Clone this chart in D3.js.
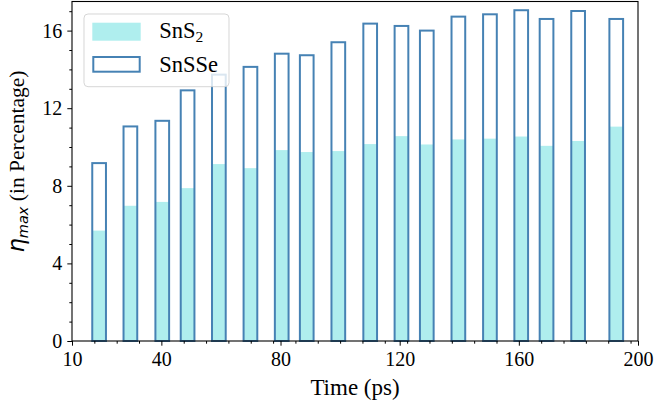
<!DOCTYPE html>
<html>
<head>
<meta charset="utf-8">
<script src="https://cdn.jsdelivr.net/npm/d3@7"></script>
<style>
  html, body { margin: 0; padding: 0; background: #fff; }
  svg { display: block; }
</style>
</head>
<body>
<svg id="chart" width="657" height="407"></svg>
<script>
// Simulation time (ps) for each sample
const time = [19.1, 29.6, 40.3, 48.8, 59.3, 69.9, 80.4, 88.8, 99.4, 110.1, 120.6, 129.1, 139.7, 150.3, 160.8, 169.3, 179.9, 192.7];
// Maximum efficiency (%) per material
const sns2  = [5.69, 6.97, 7.17, 7.88, 9.12, 8.91, 9.84, 9.74, 9.79, 10.15, 10.56, 10.13, 10.39, 10.43, 10.54, 10.06, 10.31, 11.05];
const snsse = [9.17, 11.06, 11.35, 12.92, 13.73, 14.13, 14.81, 14.73, 15.40, 16.36, 16.24, 16.00, 16.72, 16.84, 17.05, 16.60, 17.01, 16.60];
// Axis ticks
const xTicks = [10, 40, 80, 120, 160, 200];
const yTicks = [0, 4, 8, 12, 16];
const xDomain = [10, 200];
const yDomain = [0, 17.5];
const barWidth = 4.6;   // in ps

const svg = d3.select("#chart");
const plot = { left: 72, right: 638, top: 1.5, bottom: 341 };

const x = d3.scaleLinear().domain(xDomain).range([plot.left, plot.right]);
const y = d3.scaleLinear().domain(yDomain).range([plot.bottom, plot.top]);

const fillColor = "#afeeee";
const edgeColor = "#4682b4";
const serif = '"Liberation Serif", "Times New Roman", serif';
const mathSans = '"DejaVu Sans", sans-serif';

// Minor ticks: x every 7.5 from the first major, y every 1, skipping majors
const xMinor = d3.range(xDomain[0] + 7.5, xDomain[1], 7.5).filter(v => !xTicks.some(t => Math.abs(t - v) < 1e-6));
const yMinor = d3.range(1, yDomain[1], 1).filter(v => !yTicks.includes(v));

const bw = x(xDomain[0] + barWidth) - x(xDomain[0]);

// SnS2 filled bars
svg.append("g").selectAll("rect")
  .data(time)
  .join("rect")
  .attr("x", (d) => x(d) - bw / 2)
  .attr("width", bw)
  .attr("y", (d, i) => y(sns2[i]))
  .attr("height", (d, i) => y(0) - y(sns2[i]))
  .attr("fill", fillColor);

// SnSSe hollow bars
svg.append("g").selectAll("rect")
  .data(time)
  .join("rect")
  .attr("x", (d) => x(d) - bw / 2)
  .attr("width", bw)
  .attr("y", (d, i) => y(snsse[i]))
  .attr("height", (d, i) => y(0) - y(snsse[i]))
  .attr("fill", "none")
  .attr("stroke", edgeColor)
  .attr("stroke-width", 2);

// Axes
const xAxis = svg.append("g")
  .attr("transform", `translate(0,${plot.bottom})`)
  .call(d3.axisBottom(x).tickValues(xTicks).tickFormat(d3.format("d")).tickSize(4.7).tickPadding(6));
const xAxisMinor = svg.append("g")
  .attr("transform", `translate(0,${plot.bottom})`)
  .call(d3.axisBottom(x).tickValues(xMinor).tickFormat("").tickSize(2.7));
const yAxis = svg.append("g")
  .attr("transform", `translate(${plot.left},0)`)
  .call(d3.axisLeft(y).tickValues(yTicks).tickFormat(d3.format("d")).tickSize(4.7).tickPadding(5));
const yAxisMinor = svg.append("g")
  .attr("transform", `translate(${plot.left},0)`)
  .call(d3.axisLeft(y).tickValues(yMinor).tickFormat("").tickSize(2.7));

[xAxis, xAxisMinor, yAxis, yAxisMinor].forEach(g => {
  g.select(".domain").remove();
  g.selectAll(".tick line").attr("stroke", "#000").attr("stroke-width", 1);
});
[xAxis, yAxis].forEach(g => {
  g.attr("font-family", serif).attr("font-size", 20);
  g.selectAll(".tick text").attr("fill", "#000");
});

// Frame
svg.append("rect")
  .attr("x", plot.left).attr("y", plot.top)
  .attr("width", plot.right - plot.left).attr("height", plot.bottom - plot.top)
  .attr("fill", "none").attr("stroke", "#000").attr("stroke-width", 1.1);

// Axis titles
svg.append("text")
  .attr("x", 355)
  .attr("y", 395)
  .attr("text-anchor", "middle")
  .attr("font-family", serif)
  .attr("font-size", 23)
  .text("Time (ps)");

const yl = svg.append("text")
  .attr("transform", `translate(24,161.5) rotate(-90)`)
  .attr("text-anchor", "middle")
  .attr("font-family", serif)
  .attr("font-size", 21.5);
yl.append("tspan").attr("font-family", mathSans).attr("font-style", "italic")
  .attr("font-size", 22.5).text("η");
yl.append("tspan").attr("font-family", mathSans).attr("font-style", "italic")
  .attr("font-size", 14.5).attr("dy", 3.5).text("max");
yl.append("tspan").attr("dy", -3.5).text("\u00a0(in Percentage)");

// Legend
const lg = svg.append("g");
lg.append("rect")
  .attr("x", 84).attr("y", 14).attr("width", 145).attr("height", 72.7)
  .attr("rx", 4).attr("fill", "#fff").attr("fill-opacity", 0.8)
  .attr("stroke", "#ccc").attr("stroke-opacity", 0.8).attr("stroke-width", 1);
lg.append("rect")
  .attr("x", 92.3).attr("y", 22.7).attr("width", 48.4).attr("height", 18)
  .attr("fill", fillColor);
lg.append("rect")
  .attr("x", 93.3).attr("y", 57).attr("width", 46.4).attr("height", 14.7)
  .attr("fill", "none").attr("stroke", edgeColor).attr("stroke-width", 2);
const t1 = lg.append("text").attr("x", 159.3).attr("y", 38.3)
  .attr("font-family", serif).attr("font-size", 22.5);
t1.append("tspan").text("SnS");
t1.append("tspan").attr("font-size", 15.5).attr("dy", 4).text("2");
lg.append("text").attr("x", 159.3).attr("y", 72.4)
  .attr("font-family", serif).attr("font-size", 22.5).text("SnSSe");
</script>
</body>
</html>
